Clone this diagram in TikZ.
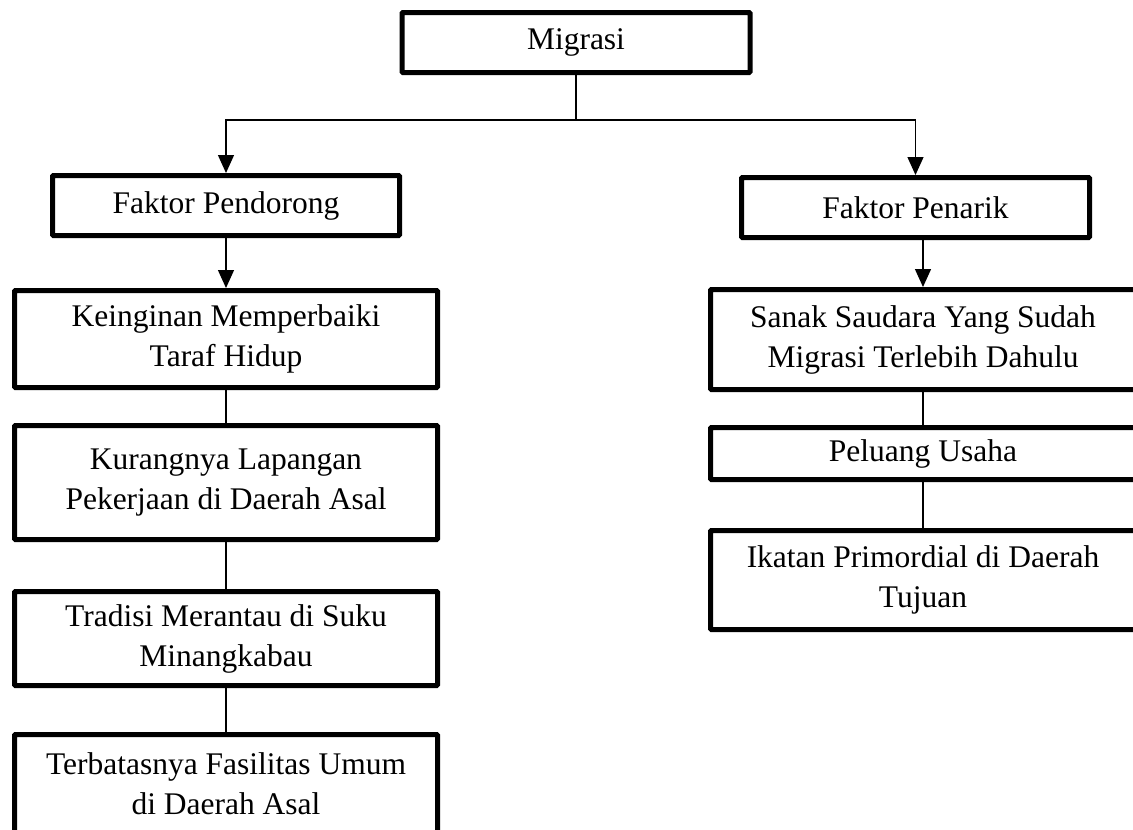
\documentclass[tikz,border=0pt]{standalone}
\usepackage{fontspec}
\setmainfont{Liberation Serif}
\usetikzlibrary{arrows.meta}
\begin{document}
\begin{tikzpicture}[x=1pt,y=-1pt,every node/.style={font=\fontsize{31.5}{40}\selectfont, align=center, inner sep=0pt},
box/.style={draw, line width=5pt, rounded corners=1pt},
link/.style={line width=1.3pt},
arr/.style={link, -{Triangle[length=18pt,width=16pt]}}]
\useasboundingbox (0,0) rectangle (1133,830);
\clip (0,0) rectangle (1133,830);
\node[box, minimum width=348, minimum height=60] (mig) at (576,42.5) {Migrasi};
\node[box, minimum width=347, minimum height=60] (pend) at (226,205.5) {Faktor Pendorong};
\node[box, minimum width=348, minimum height=60] (tarik) at (915.5,207.5) {Faktor Penarik};
\node[box, minimum width=423, minimum height=97] (kein) at (226,339) {Keinginan Memperbaiki\\Taraf Hidup};
\node[box, minimum width=423, minimum height=114] (kur) at (226,482.5) {Kurangnya Lapangan\\Pekerjaan di Daerah Asal};
\node[box, minimum width=423, minimum height=94] (trad) at (226,638.5) {Tradisi Merantau di Suku\\Minangkabau};
\node[box, minimum width=423, minimum height=99] (terb) at (226,784) {Terbatasnya Fasilitas Umum\\di Daerah Asal};
\node[box, minimum width=425, minimum height=100] (sanak) at (923,339.5) {Sanak Saudara Yang Sudah\\Migrasi Terlebih Dahulu};
\node[box, minimum width=425, minimum height=52] (pel) at (923,453.5) {Peluang Usaha};
\node[box, minimum width=425, minimum height=99] (ikat) at (923,580) {Ikatan Primordial di Daerah\\Tujuan};
\coordinate (split) at (576,120);
\draw[link] (mig) -- (split);
\draw[arr] (split) -| (pend);
\draw[arr] (split) -| (tarik);
\draw[arr] (pend) -- (kein);
\draw[arr] (tarik.south -| sanak) -- (sanak);
\foreach \a/\b in {kein/kur,kur/trad,trad/terb,sanak/pel,pel/ikat} {
\draw[link] (\a) -- (\b);
}
\end{tikzpicture}
\end{document}
